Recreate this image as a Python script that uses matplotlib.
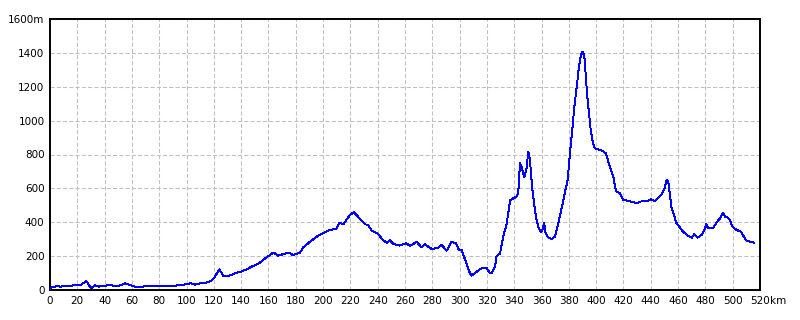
import matplotlib
matplotlib.use("Agg")
import matplotlib.pyplot as plt

distance_km = [0, 2, 5, 8, 12, 15, 18, 22, 26.6, 28, 30, 33, 36, 40, 44, 48, 52, 55, 58, 62,
               66, 70, 75, 80, 85, 90, 95, 100, 103, 106, 110, 114, 118, 120, 122, 124, 127, 130,
               133, 136.7, 140, 144, 147.7, 150, 153, 158.7, 163.6, 167, 171, 175, 177.7, 183,
               185.5, 190.4, 195.3, 200, 205, 210, 212, 214.8, 219.7, 222.6, 226.5, 230.7, 233,
               235.6, 240.5, 243, 246.6, 249, 251.4, 256, 261, 263.7, 268.6, 272, 274.6, 279.5,
               284.4, 286.9, 290.5, 294.2, 297.4, 299.5, 301.5, 305, 307.6, 308.8, 312.5, 316,
               320, 322.2, 323.5, 326, 327, 329.6, 332, 334.5, 337, 339.3, 341.8, 343, 344.2,
               345.4, 347.4, 349, 350.3, 351.5, 353.2, 355.2, 356.4, 358, 359.6, 360.6, 362,
               363, 365, 367.4, 369.9, 372.3, 374.8, 377.2, 379.1, 380.8, 382.5, 384, 385.8,
               387.4, 388.9, 390.1, 391.3, 392.3, 393.5, 394.8, 396, 397.2, 398.6, 400.4, 402.8,
               405.2, 407, 408.9, 410.9, 412.6, 413.8, 415, 417.5, 420, 423.5, 427.2, 429.7, 432,
               437, 440, 442.8, 445.5, 448, 450, 451.7, 452.8, 454, 455.3, 457, 458.5, 460,
               462.6, 465, 467.5, 470, 471.9, 474.3, 477.3, 479.2, 480.5, 482.1, 485.8, 488.3,
               490.7, 493.1, 494.4, 496.3, 498, 499.8, 503, 506.2, 507.8, 509.5, 512.7, 515.8]

elevation_m = [8, 18, 22, 20, 26, 22, 30, 28, 53, 35, 10, 28, 20, 25, 30, 22, 28, 40, 30, 20,
               18, 22, 25, 24, 22, 25, 28, 35, 40, 32, 40, 42, 55, 70, 95, 122, 83, 80,
               90, 102, 108, 122, 138, 145, 158, 193, 222, 203, 212, 220, 207, 220,
               252, 285, 315, 335, 354, 364, 397, 388, 443, 459, 425, 388, 384,
               350, 331, 301, 279, 295, 272, 262, 276, 260, 285, 252, 270, 242,
               250, 266, 232, 285, 276, 236, 236, 157, 98, 85, 108, 128,
               128, 98, 102, 138, 200, 216, 315, 394, 531, 541, 551, 580, 748,
               728, 665, 718, 817, 767, 600, 472, 413, 364, 341, 354, 394,
               335, 309, 301, 315, 395, 485, 580, 649, 807, 945, 1082, 1200,
               1318, 1387, 1407, 1387, 1279, 1141, 1043, 945, 886, 842, 832, 827,
               820, 807, 758, 708, 669, 610, 580, 571, 531, 527, 518, 512, 522,
               525, 535, 525, 543, 566, 598, 649, 640, 561, 482, 443, 400, 384,
               354, 335, 319, 309, 329, 309, 325, 354, 388, 364, 368, 400,
               423, 457, 433, 427, 413, 374, 354, 344, 321, 295, 285, 279]

x_ticks = list(range(0, 521, 20))
x_tick_labels = [str(v) for v in x_ticks]
y_ticks = list(range(0, 1601, 200))
y_tick_labels = [str(v) for v in y_ticks[:-1]] + ["1600m"]
x_unit = "km"

plt.rcParams['font.family'] = ['DejaVu Sans']
fig = plt.figure(figsize=(8, 3.2), dpi=100)
ax = fig.add_axes([50/800, 1-290/320, 710/800, 271/320])

ax.plot(distance_km, elevation_m, color='#0000FF', linewidth=0.7, antialiased=False, zorder=3)

ax.set_xlim(0, 520)
ax.set_ylim(0, 1600)
ax.set_xticks(x_ticks)
ax.set_xticklabels(x_tick_labels)
ax.set_yticks(y_ticks)
ax.set_yticklabels(y_tick_labels)
ax.tick_params(length=0, labelsize=7.5, pad=4, colors='black')
ax.grid(True, color='#C0C0C0', linestyle=(0, (4, 2)), linewidth=0.75)
ax.set_axisbelow(True)
for s in ax.spines.values():
    s.set_color('black')
    s.set_linewidth(1.4)

fig.canvas.draw()
lbl = ax.get_xticklabels()[-1]
bb = lbl.get_window_extent(fig.canvas.get_renderer())
x_fig, y_fig = fig.transFigure.inverted().transform((bb.x1, (bb.y0 + bb.y1) / 2))
fig.text(x_fig, y_fig, x_unit, fontsize=7.5, ha='left', va='center')

fig.savefig("out.png", dpi=100)
